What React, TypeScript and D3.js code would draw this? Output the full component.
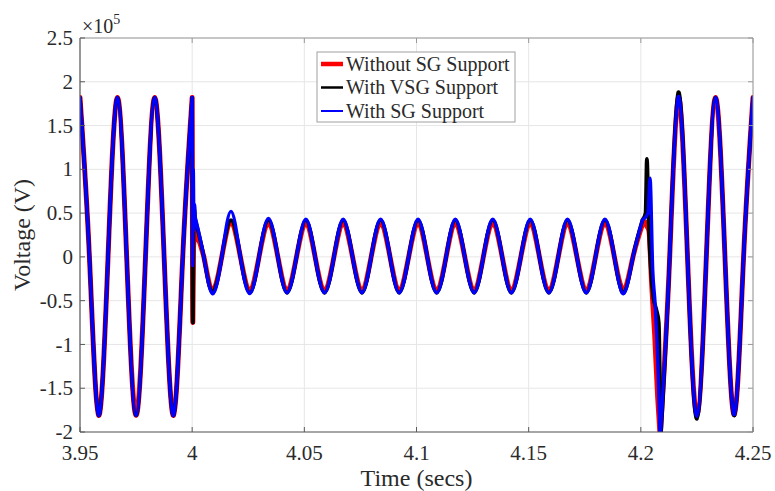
import React from 'react';
import * as d3 from 'd3';

// ---- axes ----
const xTicks = [3.95, 4.0, 4.05, 4.1, 4.15, 4.2, 4.25];
const xTickLabels = ['3.95', '4', '4.05', '4.1', '4.15', '4.2', '4.25'];
const yTicks = [-2, -1.5, -1, -0.5, 0, 0.5, 1, 1.5, 2, 2.5];
const yTickLabels = ['-2', '-1.5', '-1', '-0.5', '0', '0.5', '1', '1.5', '2', '2.5'];
const xDomain = [3.95, 4.25];
const yDomain = [-2, 2.5];

// ---- data (voltage in 1e5 V) ----
// pre-fault (all series identical)
const preT = [3.95, 3.9542, 3.9583, 3.9625, 3.9667, 3.9708, 3.975, 3.9792, 3.9833, 3.9875, 3.9917, 3.9958, 4.0];
const preV = [1.82, 0, -1.81, 0, 1.82, 0, -1.81, 0, 1.82, 0, -1.81, 0, 1.82];

// fault inception transient
const redOnT = [4.0, 4.0003, 4.0006, 4.0013];
const redOnV = [1.82, -0.75, 0.1, 0.3];
const blackOnT = [4.0, 4.0003, 4.0006, 4.0009, 4.0013];
const blackOnV = [1.82, -0.75, 0.3, 0.55, 0.43];
const blueOnT = [4.0, 4.0002, 4.0005, 4.0008, 4.0011, 4.0013];
const blueOnV = [1.82, -0.1, 1.0, 0.3, 0.6, 0.46];

// during fault
const faultT = [
  4.0013, 4.0052, 4.009, 4.0132, 4.0173, 4.0215, 4.0257, 4.0298, 4.034, 4.0382,
  4.0423, 4.0465, 4.0507, 4.0548, 4.059, 4.0632, 4.0673, 4.0715, 4.0757, 4.0798,
  4.084, 4.0882, 4.0923, 4.0965, 4.1007, 4.1048, 4.109, 4.1132, 4.1173, 4.1215,
  4.1257, 4.1298, 4.134, 4.1382, 4.1423, 4.1465, 4.1507, 4.1548, 4.159, 4.1632,
  4.1673, 4.1715, 4.1757, 4.1798, 4.184, 4.1882, 4.1923, 4.1965, 4.2007,
];
const redFaultV = [
  0.3, 0, -0.38, 0, 0.38, 0, -0.37, 0, 0.37, 0,
  -0.37, 0, 0.37, 0, -0.37, 0, 0.37, 0, -0.37, 0,
  0.37, 0, -0.37, 0, 0.37, 0, -0.37, 0, 0.37, 0,
  -0.37, 0, 0.37, 0, -0.37, 0, 0.37, 0, -0.37, 0,
  0.37, 0, -0.37, 0, 0.37, 0, -0.37, 0, 0.37,
];
const blackFaultV = [
  0.43, 0, -0.4, 0, 0.42, 0, -0.41, 0, 0.42, 0,
  -0.41, 0, 0.42, 0, -0.41, 0, 0.42, 0, -0.41, 0,
  0.42, 0, -0.41, 0, 0.42, 0, -0.41, 0, 0.42, 0,
  -0.41, 0, 0.42, 0, -0.41, 0, 0.42, 0, -0.41, 0,
  0.42, 0, -0.41, 0, 0.42, 0, -0.41, 0, 0.42,
];
const blueFaultV = [
  0.46, 0, -0.42, 0, 0.52, 0, -0.42, 0, 0.44, 0,
  -0.41, 0, 0.43, 0, -0.41, 0, 0.43, 0, -0.41, 0,
  0.43, 0, -0.41, 0, 0.43, 0, -0.41, 0, 0.43, 0,
  -0.41, 0, 0.43, 0, -0.41, 0, 0.43, 0, -0.41, 0,
  0.43, 0, -0.41, 0, 0.43, 0, -0.42, 0, 0.42,
];

// fault clearing transient
const redOffT = [4.2007, 4.2018, 4.2027, 4.2036, 4.2048, 4.2062, 4.2075, 4.2086];
const redOffV = [0.37, 0.4, 0.35, 0.3, -0.3, -0.9, -1.6, -2.05];
const blackOffT = [4.2007, 4.2021, 4.2027, 4.2035, 4.2055, 4.2069, 4.208, 4.2088];
const blackOffV = [0.42, 0.5, 1.12, 0.4, -0.45, -0.6, -0.75, -2.1];
const blueOffT = [4.2007, 4.2032, 4.2041, 4.2053, 4.2064, 4.2077, 4.2086];
const blueOffV = [0.42, 0.5, 0.9, -0.15, -0.55, -1.3, -2.1];

// post-fault
const redPostT = [4.2086, 4.2127, 4.2167, 4.2208, 4.225, 4.2292, 4.2333, 4.2375, 4.2417, 4.2458, 4.25];
const redPostV = [-2.05, -0.1, 1.82, 0, -1.8, 0, 1.82, 0, -1.8, 0, 1.82];
const blackPostT = [4.2088, 4.2127, 4.2167, 4.2208, 4.225, 4.2292, 4.2333, 4.2375, 4.2417, 4.2458, 4.25];
const blackPostV = [-2.1, -0.1, 1.88, 0, -1.85, 0, 1.82, 0, -1.81, 0, 1.82];
const bluePostT = [4.2086, 4.2127, 4.2167, 4.2208, 4.225, 4.2292, 4.2333, 4.2375, 4.2417, 4.2458, 4.25];
const bluePostV = [-2.1, -0.1, 1.83, 0, -1.82, 0, 1.82, 0, -1.8, 0, 1.82];

const seriesNames = ['Without SG Support', 'With VSG Support', 'With SG Support'];
const seriesColors = ['#ff0000', '#000000', '#0000ff'];

// ---- layout ----
const W = 775;
const H = 491;
const PL = 80;
const PR = 753;
const PT = 38;
const PB = 432;
const FONT = "'Liberation Serif', serif";

type Seg = { t: number[]; v: number[]; smooth: boolean };

const seriesSegs: Seg[][] = [
  [
    { t: preT, v: preV, smooth: true },
    { t: redOnT, v: redOnV, smooth: false },
    { t: faultT, v: redFaultV, smooth: true },
    { t: redOffT, v: redOffV, smooth: false },
    { t: redPostT, v: redPostV, smooth: true },
  ],
  [
    { t: preT, v: preV, smooth: true },
    { t: blackOnT, v: blackOnV, smooth: false },
    { t: faultT, v: blackFaultV, smooth: true },
    { t: blackOffT, v: blackOffV, smooth: false },
    { t: blackPostT, v: blackPostV, smooth: true },
  ],
  [
    { t: preT, v: preV, smooth: true },
    { t: blueOnT, v: blueOnV, smooth: false },
    { t: faultT, v: blueFaultV, smooth: true },
    { t: blueOffT, v: blueOffV, smooth: false },
    { t: bluePostT, v: bluePostV, smooth: true },
  ],
];
const seriesWidths = [5, 3.8, 3.4];

export default function App() {
  const x = d3.scaleLinear().domain(xDomain).range([PL, PR]);
  const y = d3.scaleLinear().domain(yDomain).range([PB, PT]);

  const smoothLine = d3
    .line<[number, number]>()
    .x((d) => x(d[0]))
    .y((d) => y(d[1]))
    .curve(d3.curveNatural);
  const sharpLine = d3
    .line<[number, number]>()
    .x((d) => x(d[0]))
    .y((d) => y(d[1]))
    .curve(d3.curveMonotoneX);

  const pathFor = (segs: Seg[]) =>
    segs
      .map((s) => {
        const pts = s.t.map((t, i) => [t, s.v[i]] as [number, number]);
        return (s.smooth ? smoothLine : sharpLine)(pts) || '';
      })
      .join(' ');

  const tickLen = 5;
  const axisColor = '#5a5a5a';
  const boxColor = '#9a9a9a';
  const textColor = '#2a2a2a';
  const ts = { fontFamily: FONT };

  const legX = 317;
  const legY = 52;
  const legRows = [64, 87.5, 111];
  const legWidths = [4.5, 2.5, 2];

  return (
    <svg
      width={W}
      height={H}
      style={{ position: 'absolute', left: 0, top: 0, background: '#fff', fontFamily: FONT }}
    >
      <defs>
        <clipPath id="plotclip">
          <rect x={PL} y={PT} width={PR - PL} height={PB - PT} />
        </clipPath>
      </defs>
      <rect x={0} y={0} width={W} height={H} fill="#fff" />
      {/* grid */}
      {xTicks.map((t) => (
        <line key={'gx' + t} x1={x(t)} x2={x(t)} y1={PT} y2={PB} stroke="#e6e6e6" strokeWidth={1} />
      ))}
      {yTicks.map((t) => (
        <line key={'gy' + t} x1={PL} x2={PR} y1={y(t)} y2={y(t)} stroke="#e6e6e6" strokeWidth={1} />
      ))}
      {/* series */}
      <g clipPath="url(#plotclip)">
        {seriesSegs.map((segs, i) => (
          <path
            key={i}
            d={pathFor(segs)}
            fill="none"
            stroke={seriesColors[i]}
            strokeWidth={seriesWidths[i]}
            strokeLinejoin="round"
            strokeLinecap="round"
          />
        ))}
      </g>
      {/* box */}
      <line x1={PL} x2={PR} y1={PT} y2={PT} stroke={boxColor} strokeWidth={1} />
      <line x1={PR} x2={PR} y1={PT} y2={PB} stroke={boxColor} strokeWidth={1} />
      <line x1={PL} x2={PR} y1={PB} y2={PB} stroke={axisColor} strokeWidth={1.2} />
      <line x1={PL} x2={PL} y1={PT} y2={PB} stroke={axisColor} strokeWidth={1.2} />
      {/* ticks */}
      {xTicks.map((t) => (
        <g key={'tx' + t}>
          <line x1={x(t)} x2={x(t)} y1={PB} y2={PB - tickLen} stroke={axisColor} />
          <line x1={x(t)} x2={x(t)} y1={PT} y2={PT + tickLen} stroke={boxColor} />
        </g>
      ))}
      {yTicks.map((t) => (
        <g key={'ty' + t}>
          <line x1={PL} x2={PL + tickLen} y1={y(t)} y2={y(t)} stroke={axisColor} />
          <line x1={PR} x2={PR - tickLen} y1={y(t)} y2={y(t)} stroke={boxColor} />
        </g>
      ))}
      {/* tick labels */}
      {xTicks.map((t, i) => (
        <text key={'lx' + t} x={x(t)} y={460} textAnchor="middle" fontSize={21} fill={textColor} style={ts}>
          {xTickLabels[i]}
        </text>
      ))}
      {yTicks.map((t, i) => (
        <text key={'ly' + t} x={73} y={y(t)} dy="0.34em" textAnchor="end" fontSize={21} fill={textColor} style={ts}>
          {yTickLabels[i]}
        </text>
      ))}
      {/* exponent */}
      <text x={82} y={33} fontSize={20} fill={textColor} style={ts}>
        ×10
        <tspan fontSize={14} dy={-9}>
          5
        </tspan>
      </text>
      {/* axis labels */}
      <text x={(PL + PR) / 2} y={486} textAnchor="middle" fontSize={24} fill={textColor} style={ts}>
        Time (secs)
      </text>
      <text
        x={0}
        y={0}
        transform={`translate(30, ${(PT + PB) / 2}) rotate(-90)`}
        textAnchor="middle"
        fontSize={24}
        fill={textColor}
        style={ts}
      >
        Voltage (V)
      </text>
      {/* legend */}
      <rect x={legX} y={legY} width={198} height={70} fill="#fff" stroke="#a0a0a0" strokeWidth={1} />
      {seriesNames.map((n, i) => (
        <g key={n}>
          <line
            x1={321}
            x2={343}
            y1={legRows[i]}
            y2={legRows[i]}
            stroke={seriesColors[i]}
            strokeWidth={legWidths[i]}
          />
          <text x={346} y={legRows[i]} dy="0.33em" fontSize={20} fill={textColor} style={ts}>
            {n}
          </text>
        </g>
      ))}
    </svg>
  );
}
